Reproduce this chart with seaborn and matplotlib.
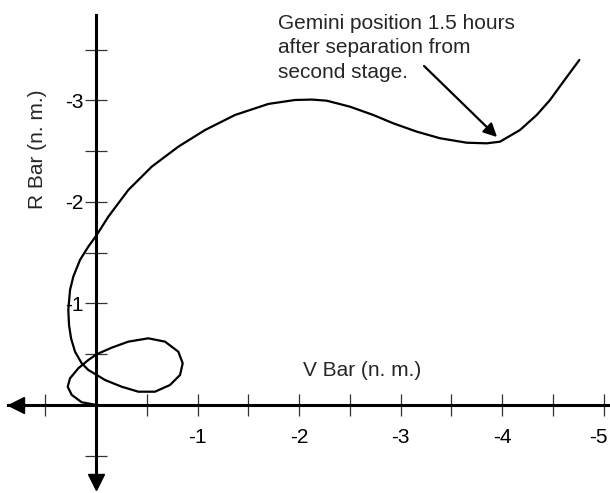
import numpy as np
import pandas as pd
import seaborn as sns
import matplotlib
matplotlib.use('Agg')
import matplotlib.pyplot as plt
import matplotlib.transforms as mtransforms

# relative path of Gemini vs. second stage (n. m.)
v_bar = [-0.007, 0.141, 0.239, 0.279, 0.256, 0.174, 0.076, -0.007, -0.155, -0.318,
         -0.515, -0.680, -0.811, -0.854, -0.828, -0.729, -0.581, -0.417, -0.253, -0.089,
         -0.007, 0.076, 0.141, 0.207, 0.246, 0.266, 0.273, 0.256, 0.224, 0.158,
         0.076, -0.007, -0.121, -0.318, -0.549, -0.811, -1.074, -1.369, -1.698, -1.961,
         -2.128, -2.273, -2.502, -2.732, -2.929, -3.160, -3.389, -3.652, -3.849, -3.980,
         -4.177, -4.342, -4.473, -4.604, -4.762]
r_bar = [0.000, -0.027, -0.099, -0.180, -0.263, -0.362, -0.443, -0.500, -0.565, -0.624,
         -0.657, -0.624, -0.525, -0.411, -0.296, -0.197, -0.131, -0.131, -0.180, -0.246,
         -0.296, -0.345, -0.411, -0.525, -0.657, -0.788, -0.936, -1.133, -1.264, -1.429,
         -1.560, -1.675, -1.855, -2.118, -2.348, -2.545, -2.709, -2.857, -2.966, -3.005,
         -3.009, -2.998, -2.939, -2.857, -2.775, -2.693, -2.628, -2.584, -2.578, -2.594,
         -2.709, -2.857, -3.005, -3.185, -3.399]

x_ticks = [0.5, -0.5, -1, -1.5, -2, -2.5, -3, -3.5, -4, -4.5, -5]
y_ticks = [0.5, -0.5, -1, -1.5, -2, -2.5, -3, -3.5]

# point the note arrow at
gemini_pt = (-3.951, -2.640)
note_start = (-3.232, -3.340)
note = "Gemini position 1.5 hours\nafter separation from\nsecond stage."

sns.set_style('white')
plt.rcParams['font.family'] = ['Liberation Sans', 'DejaVu Sans']
plt.rcParams['axes.unicode_minus'] = False

df = pd.DataFrame({'v': v_bar, 'r': r_bar})

fig = plt.figure(figsize=(6.1, 4.93), dpi=100)
ax = fig.add_axes([0, 0, 1, 1])

sns.lineplot(data=df, x='v', y='r', sort=False, estimator=None, color='black', lw=1.6, ax=ax)

ax.set_xlim(0.946, -5.064)
ax.set_ylim(0.867, -3.99)

for s in ['top', 'right']:
    ax.spines[s].set_visible(False)
ax.spines['left'].set_position(('data', 0))
ax.spines['bottom'].set_position(('data', 0))
ax.spines['left'].set_bounds(0.8, -3.842)
ax.spines['bottom'].set_bounds(0.87, -5.064)
for s in ['left', 'bottom']:
    ax.spines[s].set_linewidth(2.2)
    ax.spines[s].set_color('black')

# arrow heads on the axes
ax.plot(0.027, 0, marker='<', ms=12, color='black', transform=ax.get_yaxis_transform(), clip_on=False)
ax.plot(0, 0.023, marker='v', ms=12, color='black', transform=ax.get_xaxis_transform(), clip_on=False)

ax.set_xticks(x_ticks)
ax.set_xticklabels([str(int(t)) if t == int(t) else '' for t in x_ticks])
ax.set_yticks(y_ticks)
ax.set_yticklabels([str(int(t)) if t == int(t) else '' for t in y_ticks])
ax.tick_params(axis='both', bottom=True, left=True, direction='inout', length=15.5, width=0.9,
               color='#333333', labelsize=15, labelcolor='black')
ax.tick_params(axis='x', pad=9)
ax.tick_params(axis='y', pad=1.5)
ax.set_xlabel('')
ax.set_ylabel('')

# last label sits right at the edge, nudge it in a bit
last = ax.get_xticklabels()[-1]
last.set_transform(last.get_transform() + mtransforms.ScaledTranslation(-5 / 100, 0, fig.dpi_scale_trans))

ax.text(0.593, 0.2475, 'V Bar (n. m.)', transform=ax.transAxes, ha='center', va='center', fontsize=15)
ax.text(0.062, 0.698, 'R Bar (n. m.)', transform=ax.transAxes, ha='center', va='center',
        rotation=90, fontsize=15)

ax.text(-1.793, -3.85, note, ha='left', va='top', fontsize=15, linespacing=1.35)
ax.annotate('', xy=gemini_pt, xytext=note_start,
            arrowprops=dict(arrowstyle='-|>', color='black', lw=1.6, mutation_scale=20,
                            shrinkA=0, shrinkB=0))

plt.savefig('out.png', dpi=100)
plt.close()
